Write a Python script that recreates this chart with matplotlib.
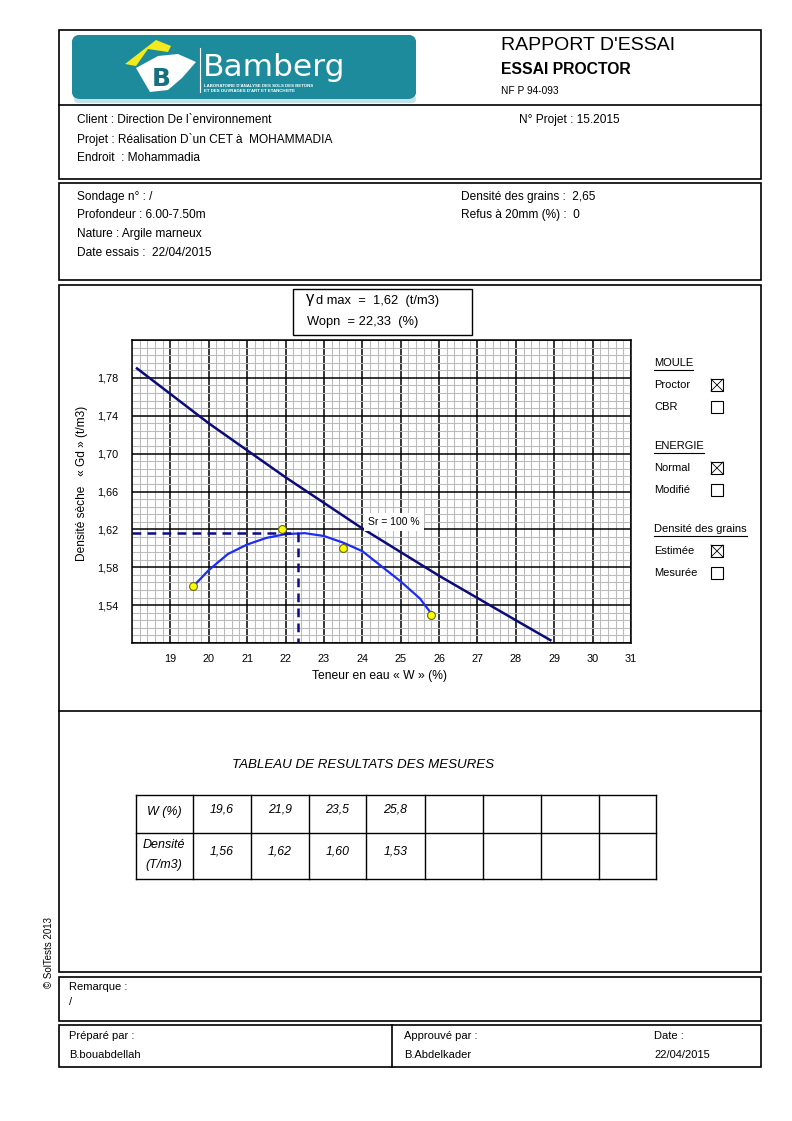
import numpy as np
import matplotlib.pyplot as plt
from matplotlib.patches import Rectangle, FancyBboxPatch, Polygon
from matplotlib.lines import Line2D
from matplotlib.colors import LinearSegmentedColormap
from matplotlib.ticker import FuncFormatter

plt.rcParams['font.family'] = ['Liberation Sans', 'DejaVu Sans']

# --- donnees ---
w_mes = [19.6, 21.9, 23.5, 25.8]
gd_mes = [1.56, 1.62, 1.60, 1.53]

# courbe Proctor
curve_w = [19.6, 20.0, 20.5, 21.0, 21.5, 22.0, 22.5, 23.0, 23.5, 24.0, 24.5, 25.0, 25.5, 25.8]
curve_gd = [1.560, 1.577, 1.594, 1.604, 1.611, 1.615, 1.616, 1.613, 1.606, 1.597, 1.581, 1.565, 1.547, 1.531]

# courbe de saturation Sr = 100 %
sat_w = [18.13, 20.0, 22.0, 24.0, 26.0, 28.0, 28.9]
sat_gd = [1.790, 1.732, 1.675, 1.621, 1.571, 1.524, 1.503]

w_opt = 22.33
gd_max = 1.616

W, H = 792, 1121
fig = plt.figure(figsize=(W / 100, H / 100), dpi=100)

BODY = 8.6
SMALL = 8.0


def fx(x):
    return x / W


def fy(y):
    return 1 - y / H


def box(x0, y0, x1, y1, lw=1.2):
    fig.add_artist(Rectangle((fx(x0), fy(y1)), fx(x1) - fx(x0), fy(y0) - fy(y1),
                             transform=fig.transFigure, fill=False, lw=lw, ec='black'))


def line(x0, y0, x1, y1, lw=1.2, color='black'):
    fig.add_artist(Line2D([fx(x0), fx(x1)], [fy(y0), fy(y1)],
                          transform=fig.transFigure, color=color, lw=lw))


def txt(x, y, s, size=BODY, **kw):
    return fig.text(fx(x), fy(y), s, fontsize=size, va='center', **kw)


def utxt(x, y, s, size=SMALL):
    t = txt(x, y, s, size)
    bb = t.get_window_extent(renderer=fig.canvas.get_renderer())
    line(bb.x0, y + 6.5, bb.x1, y + 6.5, lw=0.8)


def checkbox(x, y, checked):
    box(x, y - 6, x + 12, y + 6, lw=0.8)
    if checked:
        line(x, y - 6, x + 12, y + 6, lw=0.6)
        line(x, y + 6, x + 12, y - 6, lw=0.6)


# --- cadres ---
box(59, 30, 761, 179)
line(59, 105, 761, 105)
box(59, 183, 761, 280)
box(59, 285, 761, 972)
line(59, 711, 761, 711)
box(59, 977, 761, 1021)
box(59, 1025, 761, 1067)
line(392, 1025, 392, 1067)

# --- logo ---
axl = fig.add_axes([fx(60), fy(106), 372 / W, 76 / H])
axl.set_xlim(60, 432)
axl.set_ylim(106, 30)
axl.axis('off')
axl.add_patch(FancyBboxPatch((74, 95), 342, 8, boxstyle='round,pad=0,rounding_size=4',
                             fc='#c4e3e8', ec='none'))
logo = FancyBboxPatch((72, 35), 344, 64, boxstyle='round,pad=0,rounding_size=8',
                      fc='#1d8b9b', ec='none')
axl.add_patch(logo)
cmap = LinearSegmentedColormap.from_list('teal', ['#137a8b', '#2ba2b2', '#1a8999', '#117384'])
grad = np.tile(np.linspace(0, 1, 200), (20, 1))
im = axl.imshow(grad, extent=[72, 416, 99, 35], cmap=cmap, aspect='auto')
im.set_clip_path(logo)
axl.add_patch(Polygon([(125, 64), (156, 40), (171, 46), (168, 52), (148, 49), (136, 66)],
                      fc='#f2ea1c', ec='none'))
axl.add_patch(Polygon([(136, 68), (158, 56), (178, 54), (196, 62), (182, 78), (168, 90), (150, 92)],
                      fc='white', ec='none'))
axl.text(161, 79, 'B', color='#17707f', fontsize=18, fontweight='bold', ha='center', va='center',
         family='DejaVu Sans')
axl.plot([200, 200], [48, 92], color='white', lw=0.8)
axl.text(203, 76.5, 'Bamberg', color='white', fontsize=22.5, family='DejaVu Sans', va='baseline')
axl.text(204, 86, "LABORATOIRE D'ANALYSE DES SOLS DES BETONS", color='white', fontsize=3.2,
         va='center', fontweight='bold')
axl.text(204, 91, "ET DES OUVRAGES D'ART ET ETANCHEITE", color='white', fontsize=3.2,
         va='center', fontweight='bold')

# --- en-tete ---
txt(501, 46, "RAPPORT D'ESSAI", 14)
txt(501, 70, 'ESSAI PROCTOR', 11.3, fontweight='bold')
txt(501, 91, 'NF P 94-093', 7.3)
txt(77, 120, 'Client : Direction De l`environnement')
txt(77, 139, 'Projet : Réalisation D`un CET à  MOHAMMADIA')
txt(77, 158, 'Endroit  : Mohammadia')
txt(519, 120, 'N° Projet : 15.2015')

txt(77, 197, 'Sondage n° : /')
txt(77, 215, 'Profondeur : 6.00-7.50m')
txt(77, 234, 'Nature : Argile marneux')
txt(77, 253, 'Date essais :  22/04/2015')
txt(461, 197, 'Densité des grains :  2,65')
txt(461, 215, 'Refus à 20mm (%) :  0')

# --- cadre resultat ---
box(293, 289, 472, 335, lw=1.0)
txt(306, 299, 'γ', 12)
txt(316, 301, 'd max  =  1,62  (t/m3)', 9.3)
txt(307, 322, 'Wopn  = 22,33  (%)', 9.3)

# --- graphique ---
ax = fig.add_axes([fx(132), fy(643), (631 - 132) / W, (643 - 340) / H])
ax.set_xlim(18, 31)
ax.set_ylim(1.50, 1.82)
ax.set_xticks(np.arange(19, 32, 1))
ax.set_xticks(np.arange(18, 31.01, 0.2), minor=True)
ax.set_yticks(np.arange(1.50, 1.8201, 0.04))
ax.set_yticks(np.arange(1.50, 1.8201, 0.008), minor=True)
ax.grid(which='minor', color='#bcbcbc', lw=0.8)
ax.grid(which='major', color='black', lw=1.1)
ax.set_axisbelow(True)
ax.yaxis.set_major_formatter(FuncFormatter(
    lambda v, p: '' if v < 1.52 or v > 1.80 else f'{v:.2f}'.replace('.', ',')))
ax.tick_params(which='both', length=0, labelsize=7.8)
ax.tick_params(axis='y', pad=10)
ax.tick_params(axis='x', pad=8)
for s in ax.spines.values():
    s.set_linewidth(1.1)

ax.plot(sat_w, sat_gd, color='#0b0b7a', lw=1.8)
ax.plot(curve_w, curve_gd, color='#1c2cf5', lw=1.6)
ax.plot([18, w_opt], [gd_max, gd_max], color='#0b0b8a', lw=1.8, ls=(0, (3.5, 2.5)))
ax.plot([w_opt, w_opt], [gd_max, 1.50], color='#0b0b8a', lw=1.8, ls=(0, (3.5, 2.5)))
ax.scatter(w_mes, gd_mes, s=32, c='#ffff00', edgecolors='#6a6a00', linewidths=0.8, zorder=5)
ax.text(24.83, 1.628, 'Sr = 100 %', fontsize=7.5, ha='center', va='center',
        bbox=dict(fc='white', ec='none', pad=3))

fig.text(fx(82), fy(483), 'Densité sèche   « Gd » (t/m3)', fontsize=8.6, rotation=90,
         ha='center', va='center')
txt(380, 676, 'Teneur en eau « W » (%)', 8.7, ha='center')

# --- legende ---
utxt(654, 363, 'MOULE')
txt(654, 385, 'Proctor', SMALL)
checkbox(711, 385, True)
txt(654, 407, 'CBR', SMALL)
checkbox(711, 407, False)
utxt(654, 446, 'ENERGIE')
txt(654, 468, 'Normal', SMALL)
checkbox(711, 468, True)
txt(654, 490, 'Modifié', SMALL)
checkbox(711, 490, False)
utxt(654, 529, 'Densité des grains')
txt(654, 551, 'Estimée', SMALL)
checkbox(711, 551, True)
txt(654, 573, 'Mesurée', SMALL)
checkbox(711, 573, False)

# --- tableau ---
txt(363, 765, 'TABLEAU DE RESULTATS DES MESURES', 9.6, style='italic', ha='center')
cols = [136, 193, 251, 309, 366, 425, 483, 541, 599, 656]
rows = [795, 833, 879]
for c in cols:
    line(c, rows[0], c, rows[-1], lw=1.0)
for r in rows:
    line(cols[0], r, cols[-1], r, lw=1.0)
txt(164, 812, 'W (%)', 9, style='italic', ha='center')
txt(164, 845, 'Densité', 9, style='italic', ha='center')
txt(164, 865, '(T/m3)', 9, style='italic', ha='center')
for i, (w, g) in enumerate(zip(w_mes, gd_mes)):
    xc = (cols[i + 1] + cols[i + 2]) / 2
    txt(xc, 810, f'{w:.1f}'.replace('.', ','), 8.8, style='italic', ha='center')
    txt(xc, 852, f'{g:.2f}'.replace('.', ','), 8.8, style='italic', ha='center')

fig.text(fx(49), fy(952), '© SolTests 2013', fontsize=7, rotation=90, ha='center', va='center')

# --- bas de page ---
txt(69, 987, 'Remarque :', SMALL)
txt(69, 1002, '/', SMALL)
txt(69, 1036, 'Préparé par :', SMALL)
txt(69, 1055, 'B.bouabdellah', SMALL)
txt(404, 1036, 'Approuvé par :', SMALL)
txt(404, 1055, 'B.Abdelkader', SMALL)
txt(654, 1036, 'Date :', SMALL)
txt(654, 1055, '22/04/2015', SMALL)

fig.savefig('out.png', dpi=100)
